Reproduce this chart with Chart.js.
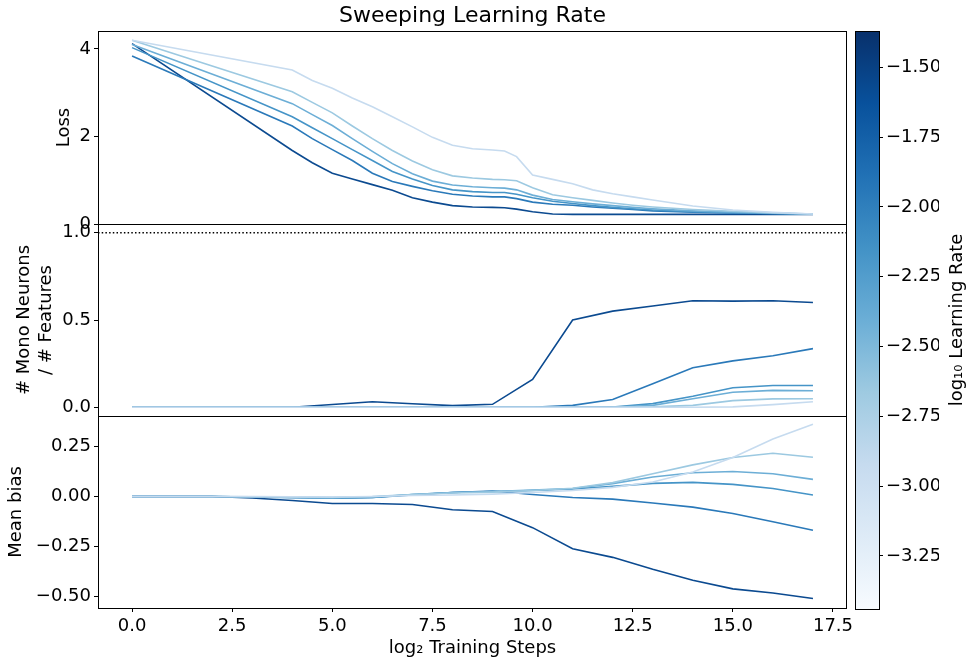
<!DOCTYPE html>
<html><head><meta charset="utf-8">
<script src="https://cdn.jsdelivr.net/npm/chart.js@4/dist/chart.umd.min.js"></script>
<style>
html,body{margin:0;padding:0;background:#fff;}
#wrap{position:relative;width:969px;height:663px;background:#fff;}
#wrap canvas{position:absolute;left:0;top:0;}
</style></head><body>
<div id="wrap">
<canvas id="cLoss" width="969" height="663"></canvas>
<canvas id="cMono" width="969" height="663"></canvas>
<canvas id="cBias" width="969" height="663"></canvas>
<canvas id="cBar" width="969" height="663"></canvas>
</div>
<script>
// ---------------- data ----------------
const titleText = 'Sweeping Learning Rate';
const xLabel = 'log\u2082 Training Steps';
const cbLabel = 'log\u2081\u2080 Learning Rate';
const seriesColors = ['#c6dbef', '#9cc9e1', '#6caed6', '#4594c7', '#2a79b9', '#0b4a90'];

const xTicks = [0, 2.5, 5, 7.5, 10, 12.5, 15, 17.5];
const lossTicks = [0, 2, 4];
const monoTicks = [0, 0.5, 1.0];
const biasTicks = [-0.5, -0.25, 0, 0.25];
const cbTicks = [-3.25, -3.0, -2.75, -2.5, -2.25, -2.0, -1.75, -1.5];

// loss curves (palest -> darkest)
const lossX = [0, 4, 4.5, 5, 5.5, 6, 6.5, 7, 7.5, 8, 8.5, 9, 9.3, 9.6, 10, 10.5, 11, 11.5, 12, 12.5, 13, 14, 15, 16, 17];
const loss1 = [4.20, 3.52, 3.28, 3.10, 2.88, 2.68, 2.45, 2.22, 1.98, 1.80, 1.72, 1.69, 1.67, 1.54, 1.12, 1.02, 0.92, 0.78, 0.69, 0.62, 0.55, 0.41, 0.32, 0.265, 0.23];
const loss2 = [4.20, 3.02, 2.78, 2.54, 2.24, 1.95, 1.68, 1.44, 1.24, 1.10, 1.05, 1.02, 1.01, 0.99, 0.83, 0.67, 0.60, 0.54, 0.48, 0.43, 0.39, 0.33, 0.29, 0.255, 0.23];
const loss3 = [4.10, 2.75, 2.50, 2.25, 1.95, 1.66, 1.38, 1.15, 0.98, 0.89, 0.85, 0.83, 0.82, 0.78, 0.66, 0.56, 0.51, 0.46, 0.42, 0.38, 0.35, 0.30, 0.27, 0.245, 0.23];
const loss4 = [4.03, 2.45, 2.20, 1.95, 1.70, 1.45, 1.20, 1.03, 0.88, 0.78, 0.74, 0.72, 0.72, 0.68, 0.60, 0.52, 0.47, 0.42, 0.38, 0.35, 0.32, 0.28, 0.26, 0.24, 0.23];
const loss5 = [3.84, 2.24, 1.95, 1.70, 1.45, 1.16, 0.97, 0.86, 0.76, 0.68, 0.64, 0.62, 0.62, 0.58, 0.50, 0.45, 0.43, 0.39, 0.36, 0.33, 0.30, 0.27, 0.25, 0.24, 0.23];
const loss6 = [4.12, 1.68, 1.40, 1.16, 1.03, 0.90, 0.77, 0.60, 0.50, 0.42, 0.39, 0.38, 0.37, 0.34, 0.28, 0.23, 0.22, 0.22, 0.22, 0.22, 0.22, 0.22, 0.22, 0.22, 0.22];

// mono-neuron fraction and mean bias, at log2 steps 0..17
const steps = [0, 1, 2, 3, 4, 5, 6, 7, 8, 9, 10, 11, 12, 13, 14, 15, 16, 17];
const mono1 = [0, 0, 0, 0, 0, 0, 0, 0, 0, 0, 0, 0, 0, 0, 0, 0.002, 0.015, 0.032];
const mono2 = [0, 0, 0, 0, 0, 0, 0, 0, 0, 0, 0, 0, 0, 0.002, 0.011, 0.038, 0.048, 0.049];
const mono3 = [0, 0, 0, 0, 0, 0, 0, 0, 0, 0, 0, 0, 0, 0.011, 0.049, 0.086, 0.097, 0.095];
const mono4 = [0, 0, 0, 0, 0, 0, 0, 0, 0, 0, 0, 0, 0.002, 0.021, 0.063, 0.112, 0.125, 0.125];
const mono5 = [0, 0, 0, 0, 0, 0, 0, 0, 0, 0, 0, 0.011, 0.044, 0.135, 0.226, 0.266, 0.295, 0.336];
const mono6 = [0, 0, 0, 0, 0, 0.016, 0.032, 0.02, 0.0095, 0.017, 0.16, 0.50, 0.551, 0.58, 0.61, 0.608, 0.61, 0.60];
const monoRef = 1.0;

const bias1 = [0, 0, 0, 0, -0.001, -0.002, 0, 0.005, 0.008, 0.012, 0.02, 0.03, 0.046, 0.073, 0.123, 0.196, 0.289, 0.363];
const bias2 = [0, 0, 0, -0.001, -0.003, -0.004, 0, 0.01, 0.018, 0.022, 0.03, 0.042, 0.07, 0.114, 0.159, 0.196, 0.217, 0.197];
const bias3 = [0, 0, 0, -0.002, -0.004, -0.006, -0.003, 0.01, 0.02, 0.025, 0.032, 0.04, 0.065, 0.098, 0.119, 0.126, 0.114, 0.086];
const bias4 = [0, 0, 0, -0.002, -0.005, -0.008, -0.005, 0.01, 0.02, 0.025, 0.03, 0.038, 0.051, 0.066, 0.071, 0.061, 0.04, 0.008];
const bias5 = [0, 0, 0, -0.002, -0.005, -0.008, -0.005, 0.008, 0.02, 0.028, 0.01, -0.005, -0.013, -0.032, -0.053, -0.085, -0.126, -0.169];
const bias6 = [0, 0, 0, -0.007, -0.02, -0.035, -0.035, -0.04, -0.066, -0.075, -0.156, -0.262, -0.305, -0.365, -0.42, -0.463, -0.484, -0.511];

// colour bar range (log10 learning rate)
const cbMin = -3.44, cbMax = -1.37;
const bluesStops = ['#f7fbff', '#deebf7', '#c6dbef', '#9ecae1', '#6baed6', '#4292c6', '#2171b5', '#08519c', '#08306b'];

// ---------------- layout / helpers ----------------
const FONT = 'DejaVu Sans';
const X_MIN = -0.85, X_MAX = 17.85;
const PLOT_LEFT = 98, PLOT_RIGHT = 847;
const W = 969, H = 663;

const minus = s => s.replace('-', '\u2212');
const pts = (xs, ys) => xs.map((x, i) => ({x: x, y: ys[i]}));
const lineDs = (xs, ys, i) => ({data: pts(xs, ys), borderColor: seriesColors[i], borderWidth: 1.6,
  showLine: true, pointRadius: 0, fill: false, tension: 0});

const boxPlugin = {id: 'box', afterDraw(chart) {
  const {ctx, chartArea: a} = chart;
  ctx.save(); ctx.strokeStyle = '#000'; ctx.lineWidth = 1;
  ctx.strokeRect(Math.round(a.left) + 0.5, Math.round(a.top) + 0.5, Math.round(a.right - a.left) - 1, Math.round(a.bottom - a.top));
  ctx.restore();
}};

const tickGrid = {display: true, drawOnChartArea: false, drawTicks: true, tickLength: 4, color: '#000', lineWidth: 1};
const tickFont = {family: FONT, size: 18};
const titleFont = {family: FONT, size: 18};

function xScale(show) {
  return {type: 'linear', min: X_MIN, max: X_MAX, display: show,
    afterBuildTicks: s => { s.ticks = xTicks.map(v => ({value: v})); },
    afterFit: s => { if (show) s.height = H - 608; },
    grid: tickGrid, border: {display: false},
    ticks: {font: tickFont, color: '#000', padding: 4, maxRotation: 0, callback: v => minus(v.toFixed(1))},
    title: {display: show, text: xLabel, font: titleFont, color: '#000', padding: {top: 0, bottom: 4}}};
}
function yScale(min, max, tickArr, fmt, title, titlePad) {
  return {type: 'linear', min: min, max: max, position: 'left',
    afterBuildTicks: s => { s.ticks = tickArr.map(v => ({value: v})); },
    afterFit: s => { s.width = PLOT_LEFT; },
    grid: tickGrid, border: {display: false},
    ticks: {font: tickFont, color: '#000', padding: 3, callback: v => minus(fmt(v))},
    title: {display: true, text: title, font: titleFont, color: '#000', padding: {top: titlePad, bottom: 0}}};
}
const baseOpts = {responsive: false, animation: false, devicePixelRatio: 1,
  plugins: {legend: {display: false}, tooltip: {enabled: false}}};

// ---------------- loss panel ----------------
new Chart(document.getElementById('cLoss'), {
  type: 'scatter',
  data: {datasets: [loss1, loss2, loss3, loss4, loss5, loss6].map((s, i) => lineDs(lossX, s, i))},
  options: Object.assign({}, baseOpts, {
    layout: {padding: {left: 0, top: 0, right: W - PLOT_RIGHT, bottom: H - 224}},
    plugins: {legend: {display: false}, tooltip: {enabled: false},
      title: {display: true, text: titleText, fullSize: false, color: '#000',
        font: {family: FONT, size: 22, weight: 'normal'}, padding: {top: 3.5, bottom: 1.1}}},
    scales: {x: xScale(false), y: yScale(0, 4.41, lossTicks, v => v.toFixed(0), 'Loss', 54)}
  }),
  plugins: [boxPlugin]
});

// ---------------- mono panel ----------------
const monoDs = [mono1, mono2, mono3, mono4, mono5, mono6].map((s, i) => lineDs(steps, s, i));
monoDs.unshift({data: [{x: X_MIN, y: monoRef}, {x: X_MAX, y: monoRef}], borderColor: '#000', borderWidth: 1.3,
  borderDash: [1.5, 2.2], showLine: true, pointRadius: 0});
new Chart(document.getElementById('cMono'), {
  type: 'scatter',
  data: {datasets: monoDs},
  options: Object.assign({}, baseOpts, {
    layout: {padding: {left: 0, top: 224, right: W - PLOT_RIGHT, bottom: H - 416}},
    scales: {x: xScale(false), y: yScale(-0.05, 1.05, monoTicks, v => v.toFixed(1), ['# Mono Neurons', '/ # Features'], 14)}
  }),
  plugins: [boxPlugin]
});

// ---------------- bias panel ----------------
new Chart(document.getElementById('cBias'), {
  type: 'scatter',
  data: {datasets: [bias1, bias2, bias3, bias4, bias5, bias6].map((s, i) => lineDs(steps, s, i))},
  options: Object.assign({}, baseOpts, {
    layout: {padding: {left: 0, top: 416, right: W - PLOT_RIGHT, bottom: 0}},
    scales: {x: xScale(true), y: yScale(-0.559, 0.404, biasTicks, v => v.toFixed(2), 'Mean bias', 6)}
  }),
  plugins: [boxPlugin]
});

// ---------------- colour bar ----------------
const cbPlugin = {id: 'cb',
  beforeDatasetsDraw(chart) {
    const {ctx, chartArea: a} = chart;
    const g = ctx.createLinearGradient(0, a.bottom, 0, a.top);
    bluesStops.forEach((c, i) => g.addColorStop(i / (bluesStops.length - 1), c));
    ctx.save(); ctx.fillStyle = g; ctx.fillRect(a.left, a.top, a.right - a.left, a.bottom - a.top); ctx.restore();
  },
  afterDraw(chart) {
    const {ctx, chartArea: a} = chart;
    ctx.save();
    ctx.strokeStyle = '#000'; ctx.lineWidth = 1;
    ctx.strokeRect(Math.round(a.left) + 0.5, Math.round(a.top) + 0.5, Math.round(a.right - a.left), Math.round(a.bottom - a.top));
    ctx.translate(957, (a.top + a.bottom) / 2);
    ctx.rotate(-Math.PI / 2);
    ctx.fillStyle = '#000'; ctx.font = '18px "DejaVu Sans"';
    ctx.textAlign = 'center'; ctx.textBaseline = 'middle';
    ctx.fillText(cbLabel, 0, 0);
    ctx.restore();
  }
};
new Chart(document.getElementById('cBar'), {
  type: 'scatter',
  data: {datasets: [{data: []}]},
  options: Object.assign({}, baseOpts, {
    layout: {padding: {left: 855, top: 31, right: 30, bottom: H - 609}},
    scales: {
      x: {type: 'linear', display: false, min: 0, max: 1},
      y: {type: 'linear', position: 'right', min: cbMin, max: cbMax,
        afterBuildTicks: s => { s.ticks = cbTicks.map(v => ({value: v})); },
        afterFit: s => { s.width = W - 30 - 879; },
        grid: tickGrid, border: {display: false},
        ticks: {font: tickFont, color: '#000', padding: 3, callback: v => minus(v.toFixed(2))}}
    }
  }),
  plugins: [cbPlugin]
});
</script>
</body></html>
